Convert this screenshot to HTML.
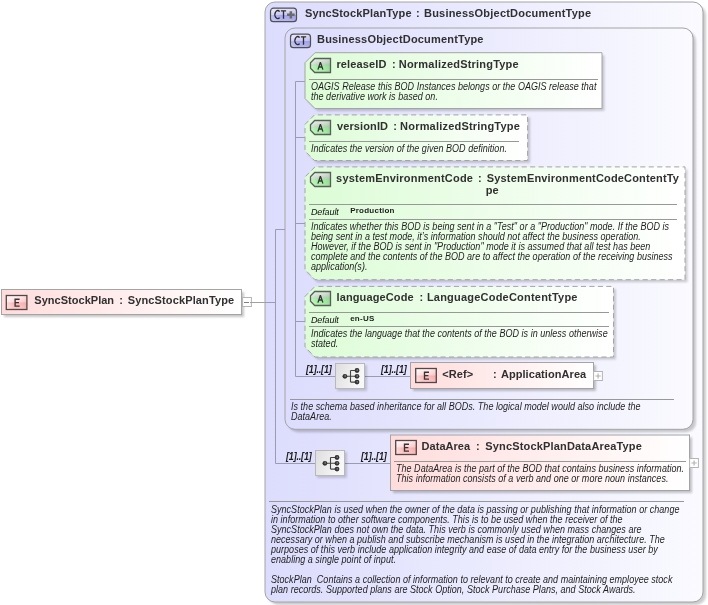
<!DOCTYPE html><html><head><meta charset="utf-8"><style>
html,body{margin:0;padding:0}
body{width:708px;height:605px;overflow:hidden;background:#fff;position:relative;font-family:"Liberation Sans", sans-serif}
#tx{position:absolute;left:0;top:0;width:708px;height:605px;will-change:transform}
.t{position:absolute;white-space:pre;font-family:"Liberation Sans", sans-serif}
.b{font-weight:bold;font-size:11px;line-height:13px;color:#303030}
.n{font-size:11px;line-height:13px;color:#2a2a2a}
.d{font-style:italic;font-size:10px;line-height:10px;color:#1e1e1e;letter-spacing:0.03px;transform:scaleX(0.9);transform-origin:0 0}
.df{font-style:italic;font-size:9px;line-height:10px;color:#101010;letter-spacing:-0.1px}
.p{font-weight:bold;font-size:8px;line-height:10px;color:#1c1c1c;letter-spacing:0.23px}
.card{font-weight:bold;font-style:italic;font-size:10px;line-height:11px;color:#1c1c1c;letter-spacing:-0.2px;transform:scaleX(0.9);transform-origin:0 0}
.bdg{font-size:11px;line-height:14px;text-align:center;color:#3a3434}
.bb{font-weight:bold;color:#403838}
</style></head><body><svg width="708" height="605" style="position:absolute;left:0;top:0"><defs>
<linearGradient id="gCT" x1="0" y1="0" x2="1" y2="0"><stop offset="0" stop-color="#dcdcfd"/><stop offset="1" stop-color="#fafaff"/></linearGradient>
<linearGradient id="gA" x1="0" y1="0" x2="1" y2="0"><stop offset="0" stop-color="#dcfcd6"/><stop offset="1" stop-color="#ffffff"/></linearGradient>
<linearGradient id="gE" x1="0" y1="0" x2="1" y2="0"><stop offset="0" stop-color="#ffdcdc"/><stop offset="1" stop-color="#ffffff"/></linearGradient>
<linearGradient id="gSeq" x1="0" y1="0" x2="1" y2="0.3"><stop offset="0" stop-color="#dedede"/><stop offset="1" stop-color="#f8f8f8"/></linearGradient>
<linearGradient id="bE" x1="0" y1="0" x2="0" y2="1"><stop offset="0" stop-color="#fff6f6"/><stop offset="0.48" stop-color="#fcd6d6"/><stop offset="0.52" stop-color="#f8b6b6"/><stop offset="1" stop-color="#fccccc"/></linearGradient>
<linearGradient id="bA" x1="0" y1="0" x2="0" y2="1"><stop offset="0" stop-color="#e6eee6"/><stop offset="0.48" stop-color="#bcd2bc"/><stop offset="0.52" stop-color="#98f298"/><stop offset="1" stop-color="#b4ecb4"/></linearGradient>
<linearGradient id="bCT" x1="0" y1="0" x2="0" y2="1"><stop offset="0" stop-color="#e6e6fa"/><stop offset="0.48" stop-color="#c8c8f2"/><stop offset="0.52" stop-color="#a4a4ee"/><stop offset="1" stop-color="#b8b8f4"/></linearGradient>
<linearGradient id="ovR" x1="0" y1="0" x2="1" y2="0"><stop offset="0" stop-color="#fff" stop-opacity="0.5"/><stop offset="0.35" stop-color="#fff" stop-opacity="0"/><stop offset="1" stop-color="#e06060" stop-opacity="0.18"/></linearGradient>
<linearGradient id="ovG" x1="0" y1="0" x2="1" y2="0"><stop offset="0" stop-color="#fff" stop-opacity="0.4"/><stop offset="0.35" stop-color="#fff" stop-opacity="0"/><stop offset="1" stop-color="#306030" stop-opacity="0.16"/></linearGradient>
<linearGradient id="ovB" x1="0" y1="0" x2="1" y2="0"><stop offset="0" stop-color="#fff" stop-opacity="0.3"/><stop offset="0.4" stop-color="#fff" stop-opacity="0"/><stop offset="1" stop-color="#404080" stop-opacity="0.08"/></linearGradient>
<filter id="sh" x="-10%" y="-10%" width="130%" height="130%"><feGaussianBlur stdDeviation="1.2"/></filter>
</defs><rect x="4.0" y="292.0" width="240.0" height="25.0" rx="0" fill="#000" opacity="0.22" filter="url(#sh)"/><rect x="1.5" y="289.5" width="240.0" height="25.0" rx="0" fill="url(#gE)" stroke="#a4a4a4"/><rect x="6.3" y="295.5" width="20.6" height="14" fill="url(#bE)"/><rect x="6.3" y="295.5" width="20.6" height="14" fill="url(#ovR)"/><rect x="6.3" y="295.5" width="20.6" height="14" fill="none" stroke="#524646" stroke-width="1.3"/><path d="M19.599999999999998 299.2H15.099999999999998V306.1H19.599999999999998M15.099999999999998 302.6H19.0" fill="none" stroke="#3c3232" stroke-width="1.35"/><rect x="242.6" y="297.5" width="8.8" height="9" fill="#fff" stroke="#b4b4b4"/><path d="M244 302.5H249" stroke="#808080" stroke-width="1"/><line x1="250" y1="302.5" x2="265" y2="302.5" stroke="#a0a0a0" stroke-width="1"/><rect x="268" y="5" width="438" height="600" rx="10" fill="#000" opacity="0.2" filter="url(#sh)"/><rect x="265" y="2" width="438" height="600" rx="10" fill="url(#gCT)" stroke="#a4a4a4"/><rect x="270.5" y="8.2" width="26" height="13.5" rx="3" fill="url(#bCT)"/><rect x="270.5" y="8.2" width="26" height="13.5" rx="3" fill="url(#ovB)"/><rect x="270.5" y="8.2" width="26" height="13.5" rx="3" fill="none" stroke="#505050" stroke-width="1.2"/><path d="M279.6 11.6A2.75 4.1 0 1 0 279.6 17.6" fill="none" stroke="#2c2c2c" stroke-width="1.3"/><path d="M280.9 10.9H286.1M283.5 10.9V18.8" fill="none" stroke="#2c2c2c" stroke-width="1.3"/><path d="M287.05 14.8H294.65000000000003M290.85 11.200000000000001V18.400000000000002" stroke="#6a6a6a" stroke-width="2.5"/><rect x="288" y="31" width="408" height="401.3" rx="10" fill="#000" opacity="0.2" filter="url(#sh)"/><rect x="285" y="28" width="408" height="401.3" rx="10" fill="url(#gCT)" stroke="#a4a4a4"/><rect x="290.5" y="34.2" width="20" height="13.5" rx="3" fill="url(#bCT)"/><rect x="290.5" y="34.2" width="20" height="13.5" rx="3" fill="url(#ovB)"/><rect x="290.5" y="34.2" width="20" height="13.5" rx="3" fill="none" stroke="#505050" stroke-width="1.2"/><path d="M299.6 37.6A2.75 4.1 0 1 0 299.6 43.6" fill="none" stroke="#2c2c2c" stroke-width="1.3"/><path d="M300.9 36.9H306.1M303.5 36.9V44.8" fill="none" stroke="#2c2c2c" stroke-width="1.3"/><line x1="265" y1="302.5" x2="275.5" y2="302.5" stroke="#9c9cb0" stroke-width="1"/><line x1="275.5" y1="229.5" x2="275.5" y2="463.5" stroke="#9c9cb0" stroke-width="1"/><line x1="275.5" y1="229.5" x2="285" y2="229.5" stroke="#9c9cb0" stroke-width="1"/><line x1="275.5" y1="463.5" x2="315" y2="463.5" stroke="#9c9cb0" stroke-width="1"/><line x1="295.5" y1="81.5" x2="295.5" y2="376.5" stroke="#9c9cb0" stroke-width="1"/><line x1="295.5" y1="81.5" x2="305" y2="81.5" stroke="#9c9cb0" stroke-width="1"/><line x1="295.5" y1="137.5" x2="305" y2="137.5" stroke="#9c9cb0" stroke-width="1"/><line x1="295.5" y1="223.5" x2="305" y2="223.5" stroke="#9c9cb0" stroke-width="1"/><line x1="295.5" y1="321.5" x2="305" y2="321.5" stroke="#9c9cb0" stroke-width="1"/><line x1="295.5" y1="376.5" x2="335" y2="376.5" stroke="#9c9cb0" stroke-width="1"/><line x1="365" y1="376.5" x2="410" y2="376.5" stroke="#9c9cb0" stroke-width="1"/><line x1="345" y1="463.5" x2="390" y2="463.5" stroke="#9c9cb0" stroke-width="1"/><polygon points="317.5,55.2 604.5,55.2 604.5,111.0 317.5,111.0 307.5,101.0 307.5,65.2" fill="#000" opacity="0.18" filter="url(#sh)"/><polygon points="315,52.7 602,52.7 602,108.5 315,108.5 305,98.5 305,62.7" fill="url(#gA)" stroke="#a4a4a4"/><polygon points="317.0,117.4 530.1,117.4 530.1,163.0 317.0,163.0 307.5,153.5 307.5,126.9" fill="#000" opacity="0.18" filter="url(#sh)"/><polygon points="314.5,114.9 527.6,114.9 527.6,160.5 314.5,160.5 305,151.0 305,124.4" fill="url(#gA)" stroke="#a4a4a4" stroke-dasharray="5.1,3.37" stroke-dashoffset="-3.37"/><polygon points="317.5,169.4 687.5,169.4 687.5,282.2 317.5,282.2 307.5,272.2 307.5,179.4" fill="#000" opacity="0.18" filter="url(#sh)"/><polygon points="315,166.9 685,166.9 685,279.7 315,279.7 305,269.7 305,176.9" fill="url(#gA)" stroke="#a4a4a4" stroke-dasharray="5.1,3.37" stroke-dashoffset="-3.37"/><polygon points="317.5,288.9 616.0,288.9 616.0,359.5 317.5,359.5 307.5,349.5 307.5,298.9" fill="#000" opacity="0.18" filter="url(#sh)"/><polygon points="315,286.4 613.5,286.4 613.5,357 315,357 305,347 305,296.4" fill="url(#gA)" stroke="#a4a4a4" stroke-dasharray="5.1,3.37" stroke-dashoffset="-3.37"/><polygon points="314.7,58.5 330.5,58.5 330.5,72.5 314.7,72.5 310.5,68.3 310.5,62.7" fill="url(#bA)"/><polygon points="314.7,58.5 330.5,58.5 330.5,72.5 314.7,72.5 310.5,68.3 310.5,62.7" fill="url(#ovG)"/><polygon points="314.7,58.5 330.5,58.5 330.5,72.5 314.7,72.5 310.5,68.3 310.5,62.7" fill="none" stroke="#585e58" stroke-width="1.3"/><path d="M317.9 69.6L320.4 62.2L322.9 69.6M318.8 67.0H322.0" fill="none" stroke="#333" stroke-width="1.3" stroke-linejoin="bevel"/><polygon points="314.7,120.5 330.5,120.5 330.5,134.5 314.7,134.5 310.5,130.3 310.5,124.7" fill="url(#bA)"/><polygon points="314.7,120.5 330.5,120.5 330.5,134.5 314.7,134.5 310.5,130.3 310.5,124.7" fill="url(#ovG)"/><polygon points="314.7,120.5 330.5,120.5 330.5,134.5 314.7,134.5 310.5,130.3 310.5,124.7" fill="none" stroke="#585e58" stroke-width="1.3"/><path d="M317.9 131.6L320.4 124.2L322.9 131.6M318.8 129.0H322.0" fill="none" stroke="#333" stroke-width="1.3" stroke-linejoin="bevel"/><polygon points="314.7,172.5 330.5,172.5 330.5,186.5 314.7,186.5 310.5,182.3 310.5,176.7" fill="url(#bA)"/><polygon points="314.7,172.5 330.5,172.5 330.5,186.5 314.7,186.5 310.5,182.3 310.5,176.7" fill="url(#ovG)"/><polygon points="314.7,172.5 330.5,172.5 330.5,186.5 314.7,186.5 310.5,182.3 310.5,176.7" fill="none" stroke="#585e58" stroke-width="1.3"/><path d="M317.9 183.6L320.4 176.2L322.9 183.6M318.8 181.0H322.0" fill="none" stroke="#333" stroke-width="1.3" stroke-linejoin="bevel"/><polygon points="314.7,291.5 330.5,291.5 330.5,305.5 314.7,305.5 310.5,301.3 310.5,295.7" fill="url(#bA)"/><polygon points="314.7,291.5 330.5,291.5 330.5,305.5 314.7,305.5 310.5,301.3 310.5,295.7" fill="url(#ovG)"/><polygon points="314.7,291.5 330.5,291.5 330.5,305.5 314.7,305.5 310.5,301.3 310.5,295.7" fill="none" stroke="#585e58" stroke-width="1.3"/><path d="M317.9 302.6L320.4 295.2L322.9 302.6M318.8 300.0H322.0" fill="none" stroke="#333" stroke-width="1.3" stroke-linejoin="bevel"/><line x1="309" y1="79.5" x2="598" y2="79.5" stroke="#989898" stroke-width="1"/><line x1="309" y1="141.5" x2="519" y2="141.5" stroke="#989898" stroke-width="1"/><line x1="309" y1="204.5" x2="677" y2="204.5" stroke="#989898" stroke-width="1"/><line x1="309" y1="219.5" x2="677" y2="219.5" stroke="#989898" stroke-width="1"/><line x1="309" y1="312.5" x2="609" y2="312.5" stroke="#989898" stroke-width="1"/><line x1="309" y1="326.5" x2="609" y2="326.5" stroke="#989898" stroke-width="1"/><rect x="337" y="365" width="30" height="26" fill="#000" opacity="0.16" filter="url(#sh)"/><rect x="335.5" y="363.5" width="29" height="25" fill="url(#gSeq)" stroke="#b8b8b8"/><path d="M344.9 376.3H357.0M350.5 370.5V382.1M350.5 370.5H357.0M350.5 382.1H357.0" stroke="#444" stroke-width="1.1" fill="none"/><circle cx="344.9" cy="376.3" r="2.4" fill="#333"/><circle cx="345.2" cy="376.0" r="0.9" fill="#777"/><circle cx="357.0" cy="370.5" r="2.4" fill="#333"/><circle cx="357.3" cy="370.2" r="0.9" fill="#777"/><circle cx="357.0" cy="376.3" r="2.4" fill="#333"/><circle cx="357.3" cy="376.0" r="0.9" fill="#777"/><circle cx="357.0" cy="382.1" r="2.4" fill="#333"/><circle cx="357.3" cy="381.8" r="0.9" fill="#777"/><rect x="317" y="452" width="30" height="26" fill="#000" opacity="0.16" filter="url(#sh)"/><rect x="315.5" y="450.5" width="29" height="25" fill="url(#gSeq)" stroke="#b8b8b8"/><path d="M324.9 463.3H337.0M330.5 457.5V469.1M330.5 457.5H337.0M330.5 469.1H337.0" stroke="#444" stroke-width="1.1" fill="none"/><circle cx="324.9" cy="463.3" r="2.4" fill="#333"/><circle cx="325.2" cy="463.0" r="0.9" fill="#777"/><circle cx="337.0" cy="457.5" r="2.4" fill="#333"/><circle cx="337.3" cy="457.2" r="0.9" fill="#777"/><circle cx="337.0" cy="463.3" r="2.4" fill="#333"/><circle cx="337.3" cy="463.0" r="0.9" fill="#777"/><circle cx="337.0" cy="469.1" r="2.4" fill="#333"/><circle cx="337.3" cy="468.8" r="0.9" fill="#777"/><rect x="413.0" y="365.0" width="183.0" height="26.0" rx="0" fill="#000" opacity="0.22" filter="url(#sh)"/><rect x="410.5" y="362.5" width="183.0" height="26.0" rx="0" fill="url(#gE)" stroke="#a4a4a4"/><rect x="415.7" y="368.5" width="20.6" height="14" fill="url(#bE)"/><rect x="415.7" y="368.5" width="20.6" height="14" fill="url(#ovR)"/><rect x="415.7" y="368.5" width="20.6" height="14" fill="none" stroke="#524646" stroke-width="1.3"/><path d="M429.0 372.2H424.5V379.1H429.0M424.5 375.6H428.40000000000003" fill="none" stroke="#3c3232" stroke-width="1.35"/><rect x="593.6" y="371.5" width="8.8" height="9" fill="#fff" stroke="#b4b4b4"/><path d="M595.4 376H600.8M598.1 373.4V378.6" stroke="#b4b4b4" stroke-width="1.2"/><rect x="393.0" y="437.5" width="299.0" height="55.5" rx="0" fill="#000" opacity="0.22" filter="url(#sh)"/><rect x="390.5" y="435" width="299.0" height="55.5" rx="0" fill="url(#gE)" stroke="#a4a4a4"/><rect x="395.7" y="440.5" width="20.6" height="14" fill="url(#bE)"/><rect x="395.7" y="440.5" width="20.6" height="14" fill="url(#ovR)"/><rect x="395.7" y="440.5" width="20.6" height="14" fill="none" stroke="#524646" stroke-width="1.3"/><path d="M409.0 444.2H404.5V451.1H409.0M404.5 447.6H408.40000000000003" fill="none" stroke="#3c3232" stroke-width="1.35"/><line x1="394" y1="461.5" x2="686" y2="461.5" stroke="#989898" stroke-width="1"/><rect x="689.6" y="458.5" width="8.8" height="9" fill="#fff" stroke="#b4b4b4"/><path d="M691.4 463H696.8M694.1 460.4V465.6" stroke="#b4b4b4" stroke-width="1.2"/><line x1="290" y1="399.5" x2="674" y2="399.5" stroke="#989898" stroke-width="1"/><line x1="269" y1="501.5" x2="684" y2="501.5" stroke="#989898" stroke-width="1"/></svg><div id="tx"><div class="t b" style="left:34.3px;top:294px;letter-spacing:0.025px">SyncStockPlan</div><div class="t b" style="left:119.3px;top:294px;letter-spacing:0.0px">:</div><div class="t b" style="left:127.8px;top:294px;letter-spacing:0.125px">SyncStockPlanType</div><div class="t b" style="left:305.0px;top:7px;letter-spacing:0.137px">SyncStockPlanType</div><div class="t b" style="left:416.0px;top:7px;letter-spacing:0.0px">:</div><div class="t b" style="left:424.0px;top:7px;letter-spacing:0.212px">BusinessObjectDocumentType</div><div class="t b" style="left:317.0px;top:33px;letter-spacing:0.188px">BusinessObjectDocumentType</div><div class="t b" style="left:336.4px;top:58px;letter-spacing:0.15px">releaseID</div><div class="t b" style="left:392.0px;top:58px;letter-spacing:0.0px">:</div><div class="t b" style="left:398.8px;top:58px;letter-spacing:0.205px">NormalizedStringType</div><div class="t b" style="left:337.0px;top:120px;letter-spacing:0.112px">versionID</div><div class="t b" style="left:393.2px;top:120px;letter-spacing:0.0px">:</div><div class="t b" style="left:400.1px;top:120px;letter-spacing:0.2px">NormalizedStringType</div><div class="t b" style="left:336.1px;top:172px;letter-spacing:0.21px">systemEnvironmentCode</div><div class="t b" style="left:478.0px;top:172px;letter-spacing:0.0px">:</div><div class="t b" style="left:486.8px;top:172px;letter-spacing:0.162px">SystemEnvironmentCodeContentTy</div><div class="t b" style="left:485.8px;top:184px;letter-spacing:0.0px">pe</div><div class="t b" style="left:336.5px;top:291px;letter-spacing:0.118px">languageCode</div><div class="t b" style="left:419.4px;top:291px;letter-spacing:0.0px">:</div><div class="t b" style="left:426.9px;top:291px;letter-spacing:0.214px">LanguageCodeContentType</div><div class="t b" style="left:442.3px;top:368px;letter-spacing:0.075px">&lt;Ref&gt;</div><div class="t b" style="left:493.0px;top:368px;letter-spacing:0.0px">:</div><div class="t b" style="left:500.9px;top:368px;letter-spacing:0.071px">ApplicationArea</div><div class="t b" style="left:421.6px;top:440px;letter-spacing:0.029px">DataArea</div><div class="t b" style="left:476.0px;top:440px;letter-spacing:0.0px">:</div><div class="t b" style="left:485.3px;top:440px;letter-spacing:0.163px">SyncStockPlanDataAreaType</div><div class="t df" style="left:310.9px;top:207px;">Default</div><div class="t p" style="left:350.2px;top:206px;">Production</div><div class="t df" style="left:310.9px;top:315px;">Default</div><div class="t p" style="left:350.2px;top:314px;">en-US</div><div class="t card" style="left:305.8px;top:364px;">[1]..[1]</div><div class="t card" style="left:380.8px;top:364px;">[1]..[1]</div><div class="t card" style="left:285.6px;top:451px;">[1]..[1]</div><div class="t card" style="left:360.6px;top:451px;">[1]..[1]</div><div class="t d" style="left:311px;top:82px;">OAGIS Release this BOD Instances belongs or the OAGIS release that
the derivative work is based on.</div><div class="t d" style="left:311.3px;top:144px;">Indicates the version of the given BOD definition.</div><div class="t d" style="left:311px;top:222px;">Indicates whether this BOD is being sent in a &quot;Test&quot; or a &quot;Production&quot; mode. If the BOD is
being sent in a test mode, it’s information should not affect the business operation.
However, if the BOD is sent in &quot;Production&quot; mode it is assumed that all test has been
complete and the contents of the BOD are to affect the operation of the receiving business
application(s).</div><div class="t d" style="left:311px;top:329px;">Indicates the language that the contents of the BOD is in unless otherwise
stated.</div><div class="t d" style="left:290.7px;top:402px;">Is the schema based inheritance for all BODs. The logical model would also include the
DataArea.</div><div class="t d" style="left:395.6px;top:464px;">The DataArea is the part of the BOD that contains business information.
This information consists of a verb and one or more noun instances.</div><div class="t d" style="left:271px;top:504.6px;">SyncStockPlan is used when the owner of the data is passing or publishing that information or change
in information to other software components. This is to be used when the receiver of the
SyncStockPlan does not own the data. This verb is commonly used when mass changes are
necessary or when a publish and subscribe mechanism is used in the integration architecture. The
purposes of this verb include application integrity and ease of data entry for the business user by
enabling a single point of input.

StockPlan  Contains a collection of information to relevant to create and maintaining employee stock
plan records. Supported plans are Stock Option, Stock Purchase Plans, and Stock Awards.</div></div></body></html>
